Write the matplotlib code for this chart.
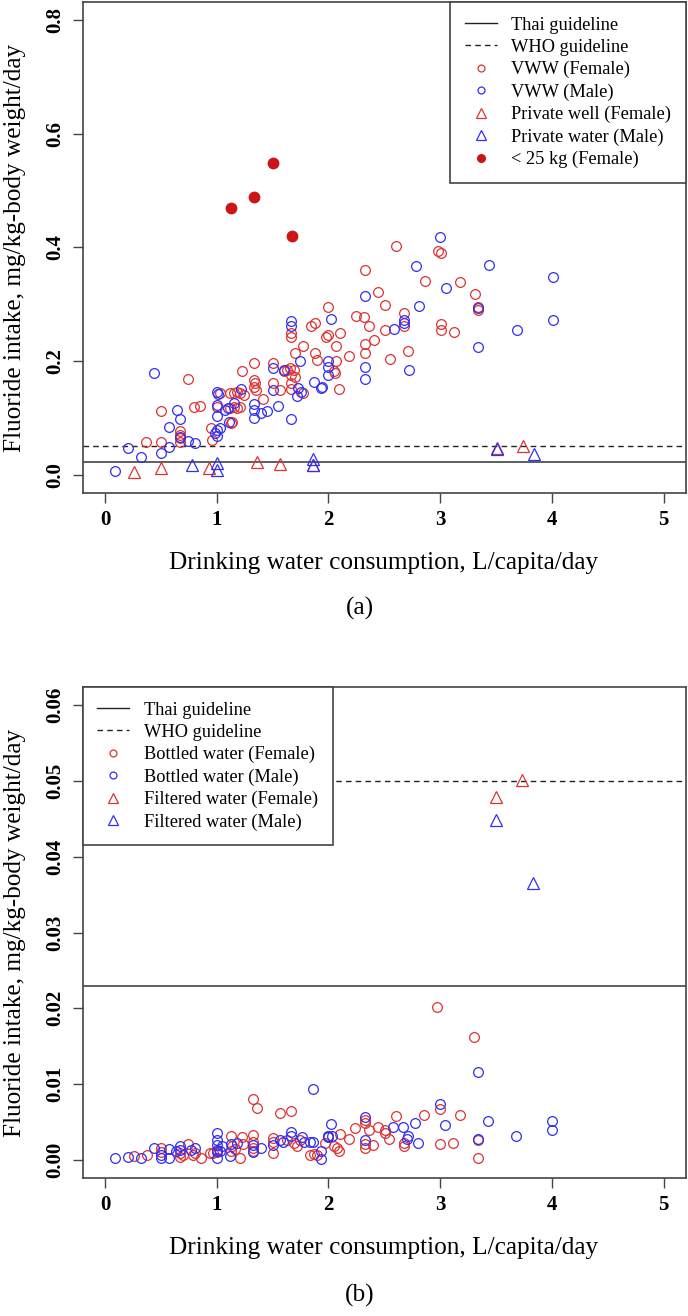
import matplotlib
matplotlib.use("Agg")
import matplotlib.pyplot as plt
from matplotlib.lines import Line2D

plt.rcParams['font.family'] = ['Liberation Serif', 'DejaVu Serif']

RED = "#dd3333"
BLUE = "#2f2ff5"
DARKRED = "#cc1515"
FRAME = "#444444"

THAI = 0.023
WHO = 0.05

# ---- panel (a): VWW drinking water ----
vww_f_x = [2.0, 1.88, 1.846, 2.245, 2.32, 2.36, 1.666, 1.666, 1.77, 1.70, 1.876, 1.90,
           2.0, 1.975, 2.10, 2.07, 2.18, 2.33, 2.33, 2.41, 2.07, 2.05, 2.06, 2.09,
           1.687, 1.657, 1.628, 1.60, 1.666, 1.70, 1.666, 1.666, 1.77, 1.567, 1.50, 1.50,
           1.41, 1.334, 1.334, 1.34, 1.33, 1.35, 1.23, 1.24, 1.21, 1.18, 1.15, 1.12,
           1.21, 1.18, 1.15, 1.12, 1.0, 1.03, 0.947, 0.96, 1.14, 1.13, 0.80, 0.854,
           0.746, 0.503, 0.674, 0.674, 0.674, 0.674, 0.503, 0.368, 2.33, 2.44, 2.60, 2.977,
           3.006, 2.86, 3.18, 3.31, 2.51, 3.34, 3.34, 2.68, 2.68, 2.51, 3.006, 3.006,
           3.126, 2.55, 2.71]
vww_f_y = [0.296, 0.267, 0.261, 0.279, 0.277, 0.261, 0.249, 0.242, 0.227, 0.215, 0.215, 0.202,
           0.246, 0.242, 0.249, 0.227, 0.209, 0.231, 0.215, 0.237, 0.200, 0.182, 0.180, 0.151,
           0.185, 0.1875, 0.185, 0.183, 0.176, 0.172, 0.161, 0.151, 0.144, 0.149, 0.196, 0.161,
           0.134, 0.196, 0.167, 0.161, 0.154, 0.149, 0.182, 0.141, 0.144, 0.146, 0.144, 0.144,
           0.120, 0.117, 0.120, 0.117, 0.120, 0.144, 0.082, 0.0615, 0.0926, 0.092, 0.120, 0.121,
           0.169, 0.113, 0.0774, 0.0703, 0.0656, 0.0586, 0.0586, 0.0586, 0.361, 0.322, 0.403, 0.394,
           0.390, 0.341, 0.339, 0.319, 0.299, 0.296, 0.290, 0.284, 0.261, 0.255, 0.265, 0.254,
           0.251, 0.204, 0.217]

vww_m_x = [2.33, 2.02, 1.666, 1.666, 2.33, 2.33, 2.0, 2.0, 2.0, 1.867, 1.93, 1.94,
           1.747, 1.60, 1.73, 1.75, 1.72, 1.666, 1.50, 1.50, 1.547, 1.40, 1.45, 1.334,
           1.33, 1.33, 1.22, 1.15, 1.10, 1.07, 1.0, 1.01, 1.0, 1.0, 1.03, 1.0,
           0.98, 1.0, 1.11, 0.437, 0.644, 0.674, 0.57, 0.674, 0.743, 0.803, 0.572, 0.203,
           0.503, 0.324, 0.093, 3.0, 2.78, 3.435, 4.01, 3.05, 2.806, 3.34, 2.68, 2.68,
           2.59, 3.687, 4.01, 3.34, 2.72]
vww_m_y = [0.315, 0.274, 0.271, 0.261, 0.189, 0.169, 0.200, 0.189, 0.175, 0.163, 0.152, 0.154,
           0.200, 0.185, 0.152, 0.146, 0.138, 0.0985, 0.1875, 0.149, 0.121, 0.1085, 0.1125, 0.100,
           0.125, 0.114, 0.151, 0.126, 0.117, 0.114, 0.145, 0.142, 0.123, 0.104, 0.082, 0.079,
           0.073, 0.0686, 0.0937, 0.179, 0.114, 0.0985, 0.0839, 0.066, 0.0603, 0.0557, 0.0498, 0.047,
           0.038, 0.031, 0.007, 0.419, 0.368, 0.370, 0.348, 0.328, 0.297, 0.293, 0.2725, 0.267,
           0.257, 0.255, 0.272, 0.2256, 0.184]

well_f_x = [0.263, 0.503, 0.93, 1.363, 1.567, 1.858, 3.507, 3.74]
well_f_y = [0.0058, 0.0118, 0.0118, 0.0223, 0.0193, 0.0176, 0.0477, 0.0500]
well_m_x = [0.78, 1.0, 1.0, 1.858, 1.858, 3.507, 3.836]
well_m_y = [0.0176, 0.0206, 0.0088, 0.028, 0.0176, 0.0449, 0.0365]

light_x = [1.127, 1.334, 1.502, 1.669]
light_y = [0.469, 0.489, 0.549, 0.421]

# ---- panel (b): bottled / filtered water ----
bot_f_x = [2.97, 3.306, 3.0, 2.856, 3.177, 2.60, 3.0, 3.117, 3.336, 3.336, 2.676, 2.676,
           2.54, 2.44, 2.505, 2.51, 2.36, 2.33, 2.33, 2.33, 2.33, 2.40, 2.24, 2.18,
           2.10, 2.08, 2.09, 2.05, 1.97, 1.867, 1.837, 1.327, 1.357, 1.567, 1.664, 1.50,
           1.50, 1.50, 1.327, 1.327, 1.327, 1.327, 1.23, 1.237, 1.13, 1.14, 1.16, 1.13,
           1.21, 1.0, 1.0, 0.967, 0.938, 0.857, 0.803, 0.788, 0.743, 0.668, 0.668, 0.698,
           0.503, 0.503, 0.374, 0.263, 1.628, 1.687, 1.717, 1.747, 1.897, 2.0]
bot_f_y = [0.0202, 0.01625, 0.0067, 0.0059, 0.0059, 0.0058, 0.0021, 0.0022, 0.0026, 0.0002, 0.0022, 0.0018,
           0.0027, 0.0043, 0.0040, 0.0036, 0.0040, 0.0053, 0.0049, 0.0021, 0.0016, 0.0020, 0.0042, 0.0028,
           0.0034, 0.0016, 0.0012, 0.0018, 0.0022, 0.0008, 0.0006, 0.0080, 0.0069, 0.0062, 0.0065, 0.0029,
           0.0024, 0.0009, 0.0033, 0.0024, 0.0015, 0.0011, 0.0030, 0.0021, 0.0032, 0.0018, 0.0014, 0.0012,
           0.0002, 0.0013, 0.0010, 0.0009, 0.0009, 0.0002, 0.0009, 0.0007, 0.0021, 0.0009, 0.0004, 0.0007,
           0.0015, 0.0010, 0.0007, 0.0005, 0.0026, 0.0022, 0.0018, 0.0026, 0.0007, 0.0031]

bot_m_x = [1.86, 3.336, 3.0, 2.775, 3.426, 4.0, 4.0, 3.04, 3.678, 3.336, 2.797, 2.67,
           2.58, 2.716, 2.70, 2.33, 2.33, 2.02, 2.0, 2.0, 2.03, 1.93, 1.93, 1.86,
           1.78, 1.664, 1.664, 1.50, 1.40, 1.327, 1.327, 1.13, 1.18, 1.12, 1.0, 1.0,
           1.0, 1.0, 1.0, 1.03, 1.05, 0.803, 0.773, 0.668, 0.668, 0.638, 0.572, 0.572,
           0.503, 0.503, 0.434, 0.324, 0.203, 0.093, 1.567, 1.597, 1.76, 1.837]
bot_m_y = [0.0094, 0.01157, 0.00738, 0.0049, 0.0051, 0.0051, 0.0040, 0.00455, 0.0032, 0.0027, 0.0022, 0.0043,
           0.0043, 0.0031, 0.0027, 0.0056, 0.0026, 0.0047, 0.0032, 0.0030, 0.0031, 0.0012, 0.0001, 0.0024,
           0.0024, 0.0037, 0.0031, 0.0019, 0.0015, 0.0020, 0.0010, 0.0021, 0.0022, 0.0005, 0.0035, 0.0026,
           0.0019, 0.0012, 0.0002, 0.0011, 0.0018, 0.0015, 0.0013, 0.0018, 0.0013, 0.0011, 0.0014, 0.0002,
           0.0002, 0.0007, 0.0015, 0.0002, 0.0004, 0.0002, 0.0026, 0.0024, 0.0030, 0.0024]

filt_f_x = [3.50, 3.73]
filt_f_y = [0.0479, 0.0501]
filt_m_x = [3.50, 3.83]
filt_m_y = [0.0449, 0.0365]

x_ticks = [0, 1, 2, 3, 4, 5]
ya_ticks = [0.0, 0.2, 0.4, 0.6, 0.8]
yb_ticks = [0.00, 0.01, 0.02, 0.03, 0.04, 0.05, 0.06]

W, H = 688, 1316
fig = plt.figure(figsize=(W / 100, H / 100), dpi=100)

ax_a = fig.add_axes([82.7 / W, 1 - 493 / H, 603.3 / W, 491 / H])
ax_b = fig.add_axes([82.7 / W, 1 - 1178 / H, 603.3 / W, 491 / H])

ms = 7.0
mew = 0.9


def style_axes(ax, yticks, yfmt, ylim):
    ax.set_xlim(-0.2, 5.2)
    ax.set_ylim(ylim)
    ax.set_xticks(x_ticks)
    ax.set_xticklabels([str(t) for t in x_ticks], fontweight='bold', fontsize=15)
    ax.set_yticks(yticks)
    ax.set_yticklabels([yfmt % t for t in yticks], fontweight='bold', fontsize=15,
                       rotation=90, va='center')
    ax.tick_params(length=7, width=1.0, color=FRAME, pad=5)
    ax.tick_params(axis='y', pad=5.5)
    for s in ax.spines.values():
        s.set_color(FRAME)
        s.set_linewidth(1.2)
    ax.axhline(THAI, color="#333333", lw=1.1, zorder=1)
    ax.axhline(WHO, color="#222222", lw=1.0, ls=(0, (4, 3)), zorder=1)


def add_legend(ax, handles, labels, loc):
    leg = ax.legend(handles, labels, loc=loc, borderaxespad=0,
                    fancybox=False, edgecolor=FRAME, framealpha=1, fontsize=13.2,
                    handlelength=1.75, handletextpad=0.8, labelspacing=0.28,
                    borderpad=0.8)
    leg.get_frame().set_linewidth(1.2)
    return leg


# -------------------------
# Panel (a)
# -------------------------
style_axes(ax_a, ya_ticks, "%.1f", (-0.032, 0.832))
ax_a.plot(vww_f_x, vww_f_y, 'o', ms=ms, mfc='none', mec=RED, mew=mew)
ax_a.plot(vww_m_x, vww_m_y, 'o', ms=ms, mfc='none', mec=BLUE, mew=mew)
ax_a.plot(well_f_x, well_f_y, '^', ms=8.5, mfc='none', mec=RED, mew=mew)
ax_a.plot(well_m_x, well_m_y, '^', ms=8.5, mfc='none', mec=BLUE, mew=mew)
ax_a.plot(light_x, light_y, 'o', ms=7.5, color=DARKRED, mec=DARKRED)

handles_a = [
    Line2D([], [], color="#222222", lw=1.0),
    Line2D([], [], color="#222222", lw=1.0, ls=(0, (4, 3))),
    Line2D([], [], ls='none', marker='o', ms=5, mfc='none', mec=RED, mew=mew),
    Line2D([], [], ls='none', marker='o', ms=5, mfc='none', mec=BLUE, mew=mew),
    Line2D([], [], ls='none', marker='^', ms=7, mfc='none', mec=RED, mew=mew),
    Line2D([], [], ls='none', marker='^', ms=7, mfc='none', mec=BLUE, mew=mew),
    Line2D([], [], ls='none', marker='o', ms=5.5, color=DARKRED),
]
labels_a = ["Thai guideline", "WHO guideline", "VWW (Female)", "VWW (Male)",
            "Private well (Female)", "Private water (Male)", "< 25 kg (Female)"]
add_legend(ax_a, handles_a, labels_a, 'upper right')

# -------------------------
# Panel (b)
# -------------------------
style_axes(ax_b, yb_ticks, "%.2f", (-0.0024, 0.0624))
ax_b.plot(bot_f_x, bot_f_y, 'o', ms=ms, mfc='none', mec=RED, mew=mew)
ax_b.plot(bot_m_x, bot_m_y, 'o', ms=ms, mfc='none', mec=BLUE, mew=mew)
ax_b.plot(filt_f_x, filt_f_y, '^', ms=8.5, mfc='none', mec=RED, mew=mew)
ax_b.plot(filt_m_x, filt_m_y, '^', ms=8.5, mfc='none', mec=BLUE, mew=mew)

labels_b = ["Thai guideline", "WHO guideline", "Bottled water (Female)",
            "Bottled water (Male)", "Filtered water (Female)", "Filtered water (Male)"]
add_legend(ax_b, handles_a[:6], labels_b, 'upper left')

# text labels
xlab = "Drinking water consumption, L/capita/day"
ylab = "Fluoride intake, mg/kg-body weight/day"
fs = 18.2
fig.text(384 / W, 1 - 563 / H, xlab, ha='center', va='center', fontsize=fs)
fig.text(384 / W, 1 - 1248 / H, xlab, ha='center', va='center', fontsize=fs)
fig.text(15 / W, 1 - 248 / H, ylab, ha='center', va='center', rotation=90, fontsize=fs)
fig.text(15 / W, 1 - 933 / H, ylab, ha='center', va='center', rotation=90, fontsize=fs)
fig.text(360 / W, 1 - 608 / H, "(a)", ha='center', va='center', fontsize=fs)
fig.text(360 / W, 1 - 1295 / H, "(b)", ha='center', va='center', fontsize=fs)

fig.savefig("out.png", dpi=100)
